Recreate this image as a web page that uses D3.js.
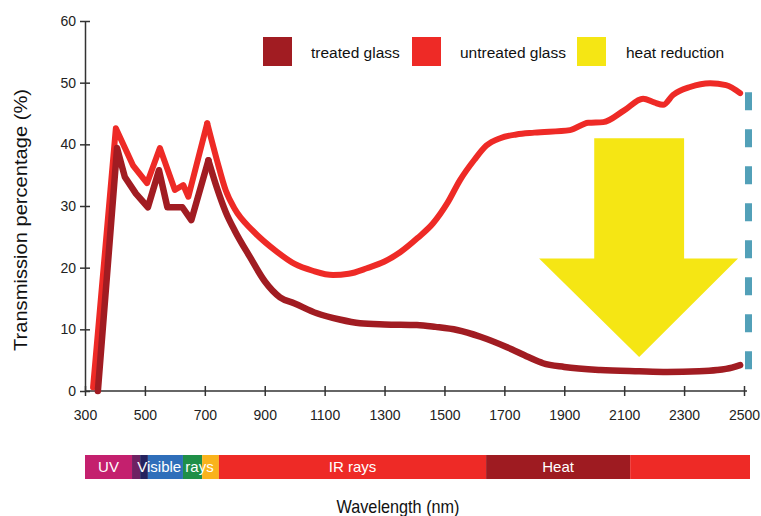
<!DOCTYPE html>
<html>
<head>
<meta charset="utf-8">
<script src="https://cdn.jsdelivr.net/npm/d3@7"></script>
<style>
  body { margin: 0; background: #fff; }
  svg { font-family: "Liberation Sans", Arial, Helvetica, sans-serif; }
</style>
</head>
<body>
<div id="chart"></div>
<script>
// transmission curves, [wavelength nm, percent]
var treated = [[343,0],[407,39.4],[433,34.7],[470,32],[510,29.8],[547,35.8],[575,29.8],[625,29.8],[655,27.7],
  [712,37.4],[740,33],[770,29],[800,26],[851,21.7],[900,17.8],[951,15.2],[1000,14.2],[1074,12.6],[1150,11.6],
  [1218,11],[1300,10.8],[1408,10.7],[1470,10.4],[1542,9.9],[1620,8.8],[1709,7.1],[1780,5.5],[1829,4.5],
  [1900,3.9],[2020,3.4],[2150,3.2],[2243,3.1],[2350,3.2],[2410,3.4],[2460,3.8],[2487,4.2]];

var untreated = [[327,0.6],[403,42.6],[460,36.6],[507,33.7],[550,39.4],[600,32.6],[628,33.4],[645,31.5],
  [708,43.4],[740,37.5],[770,32.5],[800,29.5],[860,26],[940,22.6],[1000,20.6],[1060,19.5],[1128,18.8],[1180,19],
  [1241,19.9],[1300,21],[1352,22.5],[1410,24.8],[1462,27.2],[1510,30.5],[1552,34.2],[1600,37.5],[1640,39.8],
  [1686,41],[1740,41.6],[1800,41.9],[1919,42.3],[1980,43.5],[2030,43.6],[2100,45.5],[2163,47.4],[2200,46.8],
  [2230,46.4],[2263,48],[2320,49.3],[2387,49.9],[2440,49.6],[2487,48.3]];

// the spiky visible part is drawn straight, the rest smooth
var peakEnd = 712;

// heat reduction arrow outline in data units
var arrowShape = [[2000,41],[2300,41],[2300,21.5],[2480,21.5],[2150,5.5],[1816,21.5],[2000,21.5]];
var limitLine = [[2515,49.9],[2515,2.9]];

var xTicks = [300,500,700,900,1100,1300,1500,1700,1900,2100,2300,2500];
var yTicks = [0,10,20,30,40,50,60];

var legendLabels = ["treated glass", "untreated glass", "heat reduction"];
var legendColors = ["#a11c22", "#ee2a26", "#f5e614"];

// spectrum bar bands (nm)
var bandStart = [300,457,484,510,627,691,747,1639,2120];
var bandEnd   = [457,484,510,627,691,747,1639,2120,2520];
var bandColor = ["#c4206e","#6e2262","#25225e","#2f6fba","#1f8f48","#f9b31c","#ee2a26","#9e1b21","#ee2a26"];
var bandLabels = ["UV","Visible rays","IR rays","Heat"];
var labelStart = [300,457,747,1639];
var labelEnd   = [457,747,1639,2120];

var width = 761, height = 516;

var svg = d3.select("#chart").append("svg")
    .attr("width", width)
    .attr("height", height);

var x = d3.scaleLinear().domain([300, 2500]).range([85, 744]);
var y = d3.scaleLinear().domain([0, 60]).range([391, 21]);

// axes
var xAxis = svg.append("g")
    .attr("transform", "translate(0," + y(0) + ")")
    .call(d3.axisBottom(x).tickValues(xTicks).tickFormat(d3.format("d"))
      .tickSize(5).tickSizeOuter(0).tickPadding(14));
xAxis.select(".domain").attr("d", "M" + x(300) + ",0H" + (x(2500) + 3));
xAxis.selectAll(".tick line").attr("y1", -5).attr("y2", 5);

var yAxis = svg.append("g")
    .attr("transform", "translate(" + x(300) + ",0)")
    .call(d3.axisLeft(y).tickValues(yTicks).tickSize(5).tickSizeOuter(0).tickPadding(4));
yAxis.selectAll(".tick line").attr("x1", 5).attr("x2", -5);

svg.selectAll(".domain, .tick line").attr("stroke", "#333").attr("stroke-width", 1.5);
svg.selectAll(".tick text").attr("fill", "#222").style("font-size", "14px")
    .style("font-family", "\"Liberation Sans\", Arial, sans-serif");

// yellow arrow
svg.append("path")
    .attr("d", d3.line().x(function(d) { return x(d[0]); }).y(function(d) { return y(d[1]); })(arrowShape) + "Z")
    .attr("fill", "#f5e614");

// dashed limit
svg.append("line")
    .attr("x1", x(limitLine[0][0])).attr("x2", x(limitLine[1][0]))
    .attr("y1", y(limitLine[0][1])).attr("y2", y(limitLine[1][1]))
    .attr("stroke", "#52a0b8")
    .attr("stroke-width", 7)
    .attr("stroke-dasharray", "18,19")
    .attr("stroke-dashoffset", 28);

var straight = d3.line()
    .x(function(d) { return x(d[0]); })
    .y(function(d) { return y(d[1]); });

var smooth = d3.line()
    .x(function(d) { return x(d[0]); })
    .y(function(d) { return y(d[1]); })
    .curve(d3.curveMonotoneX);

function drawSeries(data, color, w) {
  var spiky = data.filter(function(d) { return d[0] <= peakEnd; });
  var rest = data.filter(function(d) { return d[0] >= spiky[spiky.length - 1][0]; });
  [straight(spiky), smooth(rest)].forEach(function(p) {
    svg.append("path")
        .attr("d", p)
        .attr("fill", "none")
        .attr("stroke", color)
        .attr("stroke-width", w)
        .attr("stroke-linejoin", "round")
        .attr("stroke-linecap", "round");
  });
}

drawSeries(untreated, legendColors[1], 6);
drawSeries(treated, legendColors[0], 6.5);

// legend
var legendX = [263, 412, 577];
var legend = svg.selectAll(".legend")
    .data(legendLabels)
  .enter().append("g")
    .attr("class", "legend")
    .attr("transform", function(d, i) { return "translate(" + legendX[i] + ",37)"; });

legend.append("rect")
    .attr("width", 29).attr("height", 29)
    .attr("fill", function(d, i) { return legendColors[i]; });

legend.append("text")
    .attr("x", function(d, i) { return i == 2 ? 49 : 48; })
    .attr("y", 21)
    .style("font-size", "15.5px")
    .attr("fill", "#111")
    .text(function(d) { return d; });

// spectrum bar
svg.selectAll(".band")
    .data(bandStart)
  .enter().append("rect")
    .attr("class", "band")
    .attr("x", function(d) { return x(d); })
    .attr("y", 455)
    .attr("width", function(d, i) { return x(bandEnd[i]) - x(d); })
    .attr("height", 24)
    .attr("fill", function(d, i) { return bandColor[i]; });

svg.selectAll(".bandlabel")
    .data(bandLabels)
  .enter().append("text")
    .attr("class", "bandlabel")
    .attr("x", function(d, i) { return (x(labelStart[i]) + x(labelEnd[i])) / 2; })
    .attr("y", 472)
    .attr("text-anchor", "middle")
    .attr("fill", "#fff")
    .style("font-size", "15px")
    .text(function(d) { return d; });

// axis titles
svg.append("text")
    .attr("x", 398)
    .attr("y", 513)
    .attr("text-anchor", "middle")
    .attr("textLength", 123)
    .attr("lengthAdjust", "spacingAndGlyphs")
    .style("font-size", "19px")
    .attr("fill", "#111")
    .text("Wavelength (nm)");

svg.append("text")
    .attr("transform", "rotate(-90)")
    .attr("x", -220)
    .attr("y", 27)
    .attr("text-anchor", "middle")
    .attr("textLength", 262)
    .attr("lengthAdjust", "spacingAndGlyphs")
    .style("font-size", "19px")
    .attr("fill", "#111")
    .text("Transmission percentage (%)");
</script>
</body>
</html>
